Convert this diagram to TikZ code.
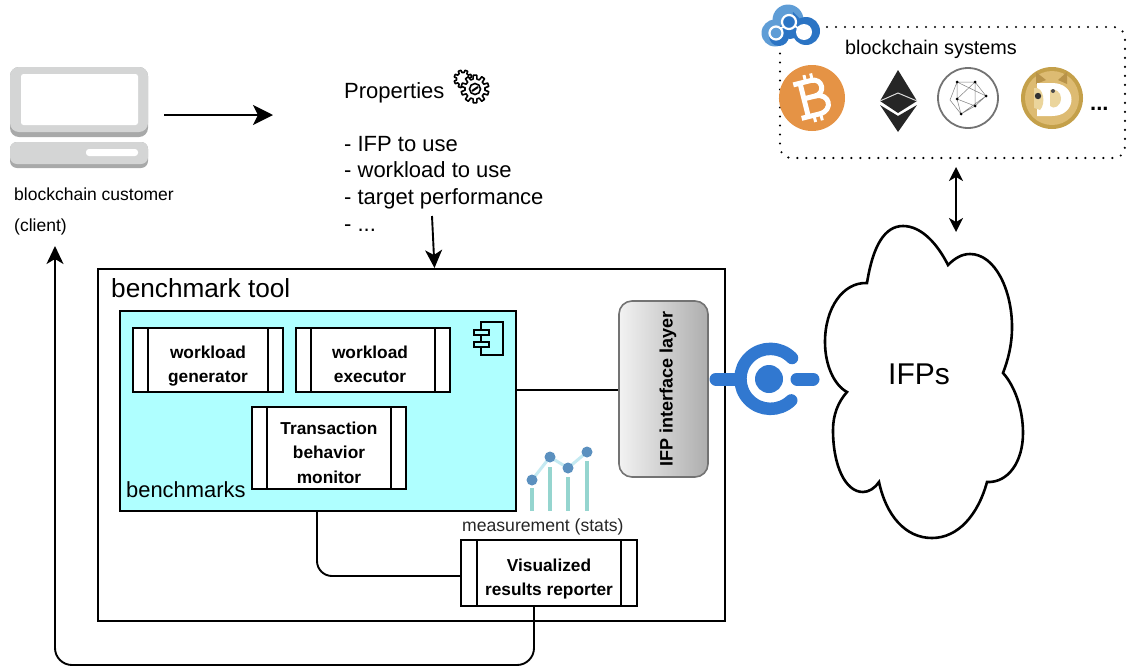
\documentclass[tikz,border=0pt]{standalone}
\usepackage{fontspec}
\setmainfont{Liberation Sans}
\usetikzlibrary{arrows.meta}
\definecolor{benchcyan}{HTML}{AFFFFF}
\definecolor{iconblue}{HTML}{3178D0}
\definecolor{logoblue}{HTML}{2B74C4}
\definecolor{logolight}{HTML}{5F9DD6}
\definecolor{laptopgray}{HTML}{D4D5D5}
\definecolor{laptopdark}{HTML}{A8A9A9}
\definecolor{chartdot}{HTML}{5B90BF}
\definecolor{chartbar}{HTML}{95D5CF}
\definecolor{chartline}{HTML}{C5EAF2}
\definecolor{btc}{HTML}{E59345}
\definecolor{dogegold}{HTML}{C4A04A}
\definecolor{dogelight}{HTML}{DDBB72}
\definecolor{dogecream}{HTML}{EBD59C}
\definecolor{dogeear}{HTML}{B8934A}
\tikzset{
  conn/.style={line width=1.9pt,draw=black},
  arrowline/.style={conn,-{Stealth[length=20pt,width=20pt,inset=5pt]}},
  twoarrow/.style={conn,{Stealth[length=14pt,width=14pt,inset=4pt]}-{Stealth[length=14pt,width=14pt,inset=4pt]}},
  thinarrow/.style={conn,-{Stealth[length=18pt,width=17pt,inset=5pt]}},
  framebox/.style={draw=black,line width=2pt,rectangle,inner sep=0pt},
  procbox/.style={framebox,fill=white,align=center,font=\fontsize{17.3}{24.5}\selectfont\bfseries},
  plain/.style={inner sep=0pt,anchor=base west},
  plaintext/.style={plain,font=\fontsize{22}{26}\selectfont},
}
\newcommand{\tops}{\rule{0pt}{25pt}}
\newcommand{\bots}{\rule[-4pt]{0pt}{4pt}}
\newcommand{\procsides}[2]{%
  \draw[line width=2pt] ([xshift=#2]#1.north west) -- ([xshift=#2]#1.south west);
  \draw[line width=2pt] ([xshift=-#2]#1.north east) -- ([xshift=-#2]#1.south east);}
\newcommand{\gearshape}[5]{% x y rin rout n
  \begin{scope}[shift={(#1,#2)}]
    \pgfmathsetmacro{\stepang}{360/#5}
    \draw[line width=1.6pt,fill=white,line join=round]
      (0:#3)
      \foreach \k in {1,...,#5}{
        -- ({(\k-1)*\stepang+0.2*\stepang}:#3)
        -- ({(\k-1)*\stepang+0.3*\stepang}:#4)
        -- ({(\k-1)*\stepang+0.7*\stepang}:#4)
        -- ({(\k-1)*\stepang+0.8*\stepang}:#3)
        -- ({\k*\stepang}:#3)
      } -- cycle;
  \end{scope}}
\begin{document}
\begin{tikzpicture}[x=1pt,y=-1pt]
\useasboundingbox (0,0) rectangle (1127,667);

% laptop
\fill[laptopdark,rounded corners=9pt] (10,67) rectangle (148,137);
\fill[laptopgray,rounded corners=9pt] (10,67) rectangle (148,132);
\fill[white,rounded corners=2.5pt] (21,74) rectangle (138,125);
\fill[laptopdark,rounded corners=7pt] (10,142) rectangle (148,168);
\fill[laptopgray,rounded corners=7pt] (10,142) rectangle (148,164);
\fill[white,rounded corners=3pt] (86,149) rectangle (138,156);
\coordinate (clientout) at (164,115);
\coordinate (propin) at (273,115);
\draw[arrowline] (clientout) -- (propin);
\node[plain,font=\fontsize{17.5}{20}\selectfont] (custname) at (14,200) {blockchain customer};
\node[plain,font=\fontsize{17.5}{20}\selectfont] (custrole) at (14,231) {(client)};

% properties
\node[plaintext] (proptitle) at (344,98.5) {Properties};
\node[plaintext] (prop1) at (344,151) {- IFP to use};
\node[plaintext] (prop2) at (344,177) {- workload to use};
\node[plaintext] (prop3) at (344,204) {- target performance};
\node[plaintext] (prop4) at (344,231) {- ...};
\gearshape{463}{79}{6.5}{9}{8}
\gearshape{475}{89}{10}{14}{10}
\draw[line width=1.6pt,fill=white] (475,89) circle (5.5pt);
\draw[line width=2pt] (472,91) -- (478,87);

% benchmark tool frame
\node[framebox,fill=white,minimum width=627pt,minimum height=352pt] (tool) at (411.5,445) {};
\node[plain,font=\fontsize{26.2}{28}\selectfont] (tooltitle) at (111,297) {benchmark tool};
\coordinate (propout) at (432,216);
\coordinate (toolin) at (tool.north -| 434.5,0);
\draw[thinarrow] (propout) -- (toolin);

% benchmarks box
\node[framebox,fill=benchcyan,minimum width=396pt,minimum height=200pt] (bench) at (318,411) {};
\node[plain,font=\fontsize{21.9}{24}\selectfont] (benchtitle) at (126,497) {benchmarks};
\node[procbox,minimum width=150pt,minimum height=64pt] (gen) at (208,360) {\tops workload\\generator\bots};
\procsides{gen}{16pt}
\node[procbox,minimum width=154pt,minimum height=64pt] (exe) at (373,360) {\tops workload\hspace*{6pt}\\executor\hspace*{6pt}\bots};
\procsides{exe}{16pt}
\node[procbox,minimum width=154pt,minimum height=82pt] (mon) at (329,448) {\tops Transaction\\behavior\\monitor\bots};
\procsides{mon}{16pt}
% component icon
\draw[line width=1.8pt] (481,322) rectangle (503,355);
\draw[line width=1.8pt,fill=benchcyan] (474,330) rectangle (489,335);
\draw[line width=1.8pt,fill=benchcyan] (474,342) rectangle (489,347);

% IFP interface layer
\node[rectangle,rounded corners=13pt,draw=black!55,line width=1.6pt,left color=black!5,right color=black!32,minimum width=89pt,minimum height=176pt,inner sep=0pt,font=\fontsize{18}{22}\selectfont\bfseries] (ifp) at (663.5,389) {\hspace*{9pt}\rotatebox{90}{IFP interface layer}};
\coordinate (benchout) at (bench.east |- 0,390);
\coordinate (ifpin) at (ifp.west |- 0,390);
\draw[conn] (benchout) -- (ifpin);

% chart
\foreach \px/\ptop in {532/488,550/467,568/477,587/461}{
  \draw[chartbar,line width=4pt] (\px,\ptop) -- (\px,511);
}
\draw[chartline,line width=3pt] (532,480) -- (550,457) -- (568,468) -- (587,452);
\foreach \px/\py in {532/480,550/457,568/468,587/452}{
  \fill[chartdot] (\px,\py) circle (5.5pt);
}
\node[plain,font=\fontsize{17.6}{20}\selectfont,text=black!85] (stats) at (462,531) {measurement (stats)};

% reporter
\node[procbox,minimum width=176pt,minimum height=66pt] (rep) at (549,573) {\tops Visualized\\results reporter\bots};
\procsides{rep}{17pt}
\coordinate (benchbot) at (317,511);
\coordinate (repin) at (rep.west |- 0,576);
\draw[conn,rounded corners=15pt] (benchbot) -- (317,576) -- (repin);
\coordinate (repbot) at (534,606);
\coordinate (clientin) at (55,246);
\draw[thinarrow,rounded corners=17pt] (repbot) -- (534,665) -- (55,665) -- (clientin);

% cloud
\node[inner sep=0pt,font=\fontsize{30}{34}\selectfont] (ifps) at (919,374) {IFPs};
\draw[line width=2.6pt,line join=miter]
  (867,283) .. controls (873,245) and (885,226) .. (903,226)
  .. controls (922,226) and (938,245) .. (948,265)
  .. controls (955,258) and (962,254) .. (970,254)
  .. controls (995,254) and (1012,290) .. (1012,327)
  .. controls (1012,345) and (1008,360) .. (1003,373)
  .. controls (1014,385) and (1023,408) .. (1023,433)
  .. controls (1023,462) and (1008,483) .. (987,482)
  .. controls (978,515) and (958,538) .. (932,538)
  .. controls (905,538) and (886,515) .. (879,482)
  .. controls (875,488) and (869,492) .. (863,492)
  .. controls (845,492) and (833,465) .. (833,430)
  .. controls (833,415) and (838,402) .. (847,392)
  .. controls (834,385) and (825,365) .. (825,342)
  .. controls (825,308) and (843,282) .. (867,283) -- cycle;

% blue connector icon
\draw[iconblue,line width=12.5pt,line cap=round] (792,358) arc[start angle=-44,end angle=-314,x radius=30pt,y radius=-30pt];
\draw[iconblue,line width=13pt,line cap=round] (716,379) -- (738,379);
\draw[iconblue,line width=13pt,line cap=round] (797,379) -- (813,379);
\fill[iconblue] (769,379) circle (14pt);

% blockchain systems frame
\draw[line width=2.4pt,line cap=round,dash pattern=on 0pt off 9pt,rounded corners=11pt] (780,27) -- (1125,27) -- (1125,158) -- (780,158) -- cycle;
\node[plain,font=\fontsize{19.8}{22}\selectfont] (chains) at (845,54) {blockchain systems};
\coordinate (chainsbot) at (956,167);
\coordinate (cloudtop) at (956,232);
\draw[twoarrow] (chainsbot) -- (cloudtop);

% cloud logo
\fill[logolight] (788,20) circle (15.5pt);
\fill[logolight] (775,33) circle (13.5pt);
\fill[logoblue] (806,31) circle (14pt);
\fill[logoblue] (790,29) circle (10pt);
\fill[logoblue] (779,36) circle (10pt);
\fill[logoblue] (793,12) -- (803,22) -- (792,32) -- cycle;
\fill[logoblue] (789,22) circle (6.5pt);
\draw[white,line width=2.2pt] (789,22) circle (7pt);
\fill[logolight] (776,33) circle (6pt);
\draw[white,line width=2.2pt] (776,33) circle (6.5pt);
\fill[white] (804,32) circle (8pt);
\draw[white,line width=1.8pt] (781,28) -- (784,27) (795,26) -- (799,29);

% bitcoin
\fill[btc] (812,98) circle (33pt);
\begin{scope}[shift={(812,98)},rotate=14,scale=1.15]
  \draw[white,line width=5pt,line join=round] (-7,-15) -- (-7,15);
  \draw[white,line width=5pt,line join=round] (-13,-15) -- (3,-15) .. controls (13,-15) and (13,-1) .. (3,-1) -- (-7,-1);
  \draw[white,line width=5pt,line join=round] (3,-1) .. controls (16,-1) and (16,15) .. (3,15) -- (-13,15);
  \draw[white,line width=3pt] (-2,-21) -- (-2,-16) (4,-21) -- (4,-16) (-2,16) -- (-2,21) (4,16) -- (4,21);
\end{scope}

% ethereum
\fill[black!85] (898,70) -- (917,101) -- (898,113) -- (880,101) -- cycle;
\fill[black!85] (880,105) -- (898,116) -- (917,105) -- (898,132) -- cycle;
\draw[white!85!black,line width=1pt] (880,101) -- (898,93) -- (917,101);

% network coin
\draw[black!55,line width=1.8pt,fill=white] (968,98) circle (30pt);
\draw[black!50,line width=0.5pt]
  (957,82) -- (975,82) -- (986,96) -- (975,106) -- (961,114) -- (950,100) -- cycle
  (957,99) -- (957,82) (957,99) -- (975,82) (957,99) -- (975,106) (957,99) -- (961,114)
  (975,82) -- (975,106) (986,96) -- (961,114) (957,82) -- (986,96);
\foreach \px/\py in {957/82,975/82,986/96,975/106,961/114,957/99}{
  \fill[black] (\px,\py) circle (1.5pt);
}

% dogecoin
\fill[dogegold] (1052,98) circle (31pt);
\fill[dogelight] (1052,98) circle (27pt);
\fill[dogeear] (1036,72) -- (1046,80) -- (1036,84) -- cycle;
\fill[dogeear] (1067,72) -- (1058,80) -- (1067,84) -- cycle;
\fill[white] (1037,83) -- (1052,83) .. controls (1078,83) and (1078,116) .. (1052,116) -- (1037,116) -- cycle;
\fill[dogecream] (1050,90) -- (1050,106) .. controls (1054,110) and (1061,106) .. (1061,98) .. controls (1061,92) and (1055,88) .. (1050,90) -- cycle;
\fill[dogecream] (1034,88) .. controls (1044,86) and (1046,104) .. (1040,110) -- (1034,108) -- cycle;
\fill[black!80] (1038,96) circle (3.2pt);
\fill[black!70] (1053,91) circle (2pt);
\node[plain,font=\fontsize{22}{24}\selectfont\bfseries] (more) at (1090,110) {...};
\end{tikzpicture}
\end{document}
